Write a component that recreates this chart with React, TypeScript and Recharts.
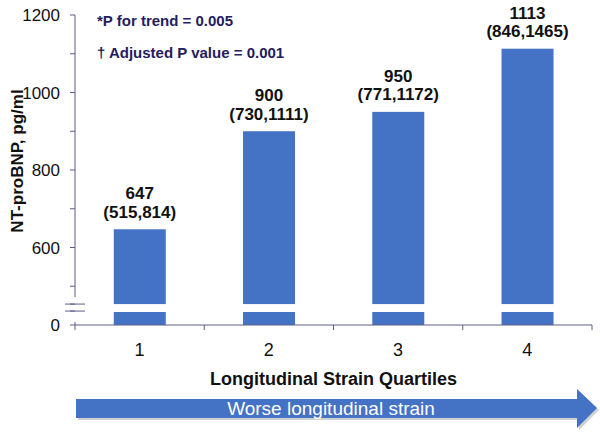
import React from 'react'
import { BarChart, Bar, XAxis, YAxis, ReferenceLine, LabelList } from 'recharts'

const quartiles = ['1', '2', '3', '4']
const medians = [647, 900, 950, 1113]
const ciLow = [515, 730, 771, 846]
const ciHigh = [814, 1111, 1172, 1465]
const yTickValues = [0, 500, 600, 700, 800, 900, 1000, 1100, 1200]
const yTickLabelled = [0, 600, 800, 1000, 1200]
const notes = ['*P for trend = 0.005', '\u2020 Adjusted P value = 0.001']

// broken axis: everything from 500 up is shifted down by 400
const BREAK_FROM = 500
const AXIS_SHIFT = 400
const Y_MAX = 800
const toDisplay = (v: number) => (v >= BREAK_FROM ? v - AXIS_SHIFT : v)
const fromDisplay = (d: number) => (d >= BREAK_FROM - AXIS_SHIFT ? d + AXIS_SHIFT : d)
const GAP_LO = 33.5, GAP_HI = 54 // white cut in bars (display units)
const MARKS = [36, 54] // the "=" break marks
const AXIS_TOP_FROM = 72, STUB_TO = 8, X_TICK = -13

const BLUE = '#4472C4'
const AXIS = '#5c5c8e'
const FONT = '"Liberation Sans", Arial, sans-serif'
const Y_TICK_SIZE = 5, Y_TICK_MARGIN = 10

const data = quartiles.map((q, i) => ({ q, d: toDisplay(medians[i]), v: medians[i] }))

const BrokenBar = (p: any) => {
  const { x, y, width, height, payload } = p
  if (!height) return null
  const k = height / payload.d
  const bottom = y + height
  const cutTop = bottom - GAP_HI * k
  const cutBottom = bottom - GAP_LO * k
  return (
    <g>
      <rect x={x} y={y} width={width} height={cutTop - y} fill={BLUE} />
      <rect x={x} y={cutBottom} width={width} height={bottom - cutBottom} fill={BLUE} />
    </g>
  )
}

const BarLabel = (p: any) => {
  const { x, y, width, index } = p
  const cx = x + width / 2
  return (
    <g fontFamily={FONT} fontWeight="bold" fontSize={17} fill="#111" textAnchor="middle">
      <text x={cx} y={y - 30}>{medians[index]}</text>
      <text x={cx} y={y - 11.5}>({ciLow[index]},{ciHigh[index]})</text>
    </g>
  )
}

const YTick = (p: any) => {
  const { x, y, payload } = p
  const d = payload.value
  if (MARKS.includes(d)) {
    const ax = x + Y_TICK_SIZE + Y_TICK_MARGIN
    return <line x1={ax - 10} x2={ax + 10} y1={y} y2={y} stroke={AXIS} />
  }
  const v = fromDisplay(d)
  if (!yTickLabelled.includes(v)) return null
  return (
    <text x={x} y={y} dy="0.355em" textAnchor="end" fontFamily={FONT} fontSize={17} fill="#111">{v}</text>
  )
}

const YLabel = (p: any) => {
  const vb = p.viewBox || { y: 15, height: 310 }
  const cy = vb.y + vb.height / 2 - 9
  return (
    <text x={0} y={0} transform={`translate(23,${cy}) rotate(-90)`} textAnchor="middle"
      fontFamily={FONT} fontWeight="bold" fontSize={17} fill="#111">
      NT-proBNP, pg/ml
    </text>
  )
}

export default function App() {
  const yTicks = [...yTickValues.map(toDisplay), ...MARKS].sort((a, b) => a - b)
  return (
    <div style={{ position: 'absolute', left: 0, top: 0, width: 600, height: 432, background: '#fff' }}>
      <BarChart width={600} height={432} data={data} margin={{ top: 15, right: 8, left: 0, bottom: 47 }}
        barCategoryGap="30%">
        <XAxis dataKey="q" axisLine={{ stroke: AXIS }} tickLine={false} tickSize={0} tickMargin={18} height={60}
          tick={{ fontFamily: FONT, fontSize: 18, fill: '#111' }}
          label={{ value: 'Longitudinal Strain Quartiles', position: 'insideBottom', offset: 0,
            style: { fontFamily: FONT, fontWeight: 'bold', fontSize: 18, fill: '#111' } }} />
        <YAxis type="number" domain={[0, Y_MAX]} ticks={yTicks} interval={0} width={75}
          tickSize={Y_TICK_SIZE} tickMargin={Y_TICK_MARGIN} axisLine={false} tickLine={{ stroke: AXIS }}
          tick={YTick} label={{ content: YLabel }} />
        <ReferenceLine stroke={AXIS} position="start" segment={[{ x: quartiles[0], y: AXIS_TOP_FROM }, { x: quartiles[0], y: Y_MAX }]} />
        <ReferenceLine stroke={AXIS} position="start" segment={[{ x: quartiles[0], y: 0 }, { x: quartiles[0], y: STUB_TO }]} />
        {quartiles.map(q => (
          <ReferenceLine key={q} stroke={AXIS} position="start" ifOverflow="visible"
            segment={[{ x: q, y: 0 }, { x: q, y: X_TICK }]} />
        ))}
        <ReferenceLine stroke={AXIS} position="end" ifOverflow="visible"
          segment={[{ x: quartiles[3], y: 0 }, { x: quartiles[3], y: X_TICK }]} />
        <Bar dataKey="d" shape={BrokenBar} isAnimationActive={false}>
          <LabelList dataKey="v" content={BarLabel} />
        </Bar>
      </BarChart>
      <svg width={600} height={432} style={{ position: 'absolute', left: 0, top: 0, pointerEvents: 'none' }}>
        {notes.map((n, i) => (
          <text key={i} x={97} y={25.5 + i * 32} fontFamily={FONT} fontWeight="bold" fontSize={15} fill="#1f2060">{n}</text>
        ))}
        <polygon points="78,401 579,401 579,391 599,410 579,430 579,420 78,420" fill="rgba(0,0,0,0.18)" />
        <polygon points="76,399 577,399 577,389 597,408 577,428 577,418 76,418" fill={BLUE} />
        <text x={331} y={415} textAnchor="middle" fontFamily={FONT} fontSize={19} fill="#fff">Worse longitudinal strain</text>
      </svg>
    </div>
  )
}
